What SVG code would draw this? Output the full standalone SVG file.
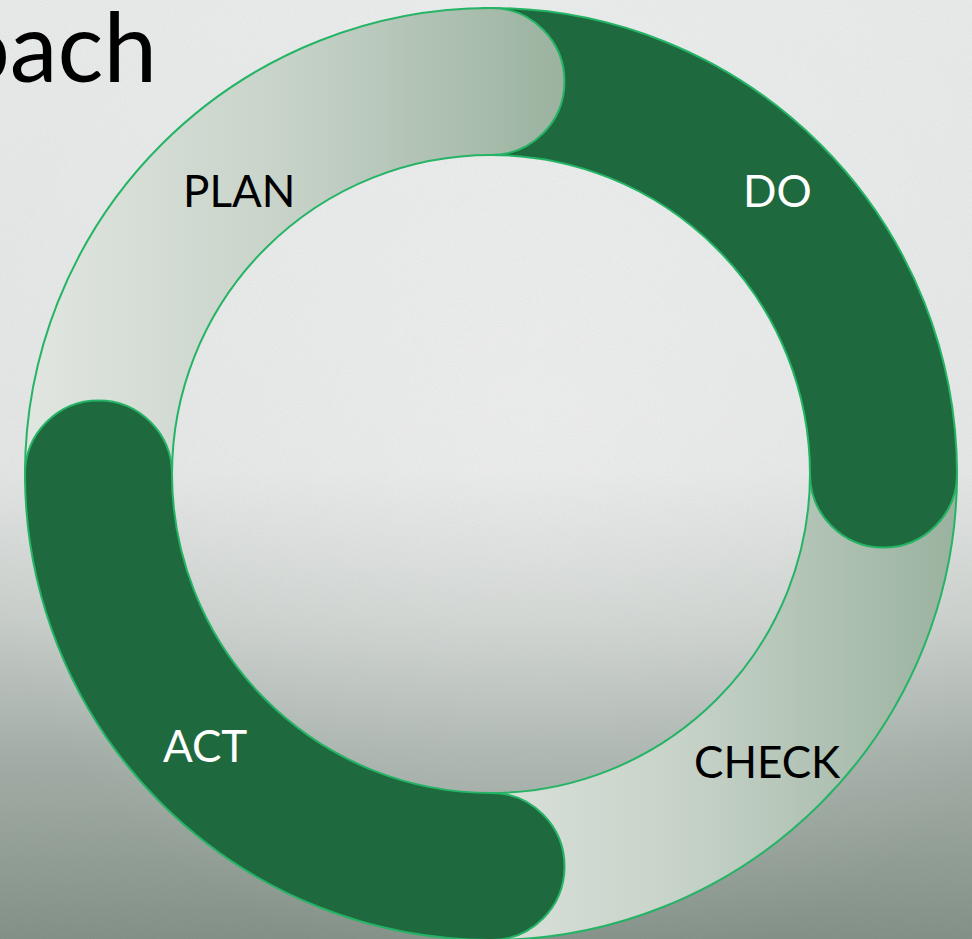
<svg xmlns="http://www.w3.org/2000/svg" width="972" height="939" viewBox="0 0 972 939">
  <defs>
    <linearGradient id="bg" x1="0" y1="0" x2="0" y2="1">
      <stop offset="0" stop-color="#eceeee"/>
      <stop offset="0.5" stop-color="#e6e8e7"/>
      <stop offset="0.66" stop-color="#c9cfcb"/>
      <stop offset="0.8" stop-color="#a3aea7"/>
      <stop offset="1" stop-color="#7f8d83"/>
    </linearGradient>
    <radialGradient id="bgHi" cx="0.55" cy="0.45" r="0.6">
      <stop offset="0" stop-color="#ffffff" stop-opacity="0.35"/>
      <stop offset="1" stop-color="#ffffff" stop-opacity="0"/>
    </radialGradient>
    <linearGradient id="light" x1="0" y1="0" x2="1" y2="0">
      <stop offset="0" stop-color="#e1e6e0"/>
      <stop offset="0.5" stop-color="#c6d2c8"/>
      <stop offset="1" stop-color="#9ab29f"/>
    </linearGradient>
    <filter id="paper" x="0" y="0" width="100%" height="100%">
      <feTurbulence type="fractalNoise" baseFrequency="0.9" numOctaves="2" seed="3"/>
      <feColorMatrix type="matrix" values="0 0 0 0 0.4  0 0 0 0 0.42  0 0 0 0 0.42  0 0 0 0.18 0"/>
    </filter>
    <style>
      .seg { stroke: #25b465; stroke-width: 2; stroke-linejoin: round; }
      .dark { fill: #1e693d; }
      .lite { fill: url(#light); }
      .lbl { font-family: Lato, "Open Sans", "Liberation Sans", sans-serif; font-size: 44px; }
      .w { fill: #ffffff; }
      .k { fill: #000000; }
    </style>
  </defs>

  <rect width="972" height="939" fill="url(#bg)"/>
  <rect width="972" height="939" fill="url(#bgHi)"/>
  <rect width="972" height="939" filter="url(#paper)"/>

  <text x="157" y="82" font-family="Lato, 'Open Sans', 'Liberation Sans', sans-serif" font-size="96" text-anchor="end" fill="#000">Approach</text>

  <g id="check">
    <path class="seg lite" d="M 957,474 A 466 466 0 0 1 491,940 A 73.5 73.5 0 0 1 491,793 A 319 319 0 0 0 810,474 A 73.5 73.5 0 0 1 957,474 Z"/>
    <text class="lbl k" x="694" y="778">CHECK</text>
  </g>
  <g id="do">
    <path class="seg dark" d="M 491,8 A 466 466 0 0 1 957,474 A 73.5 73.5 0 0 1 810,474 A 319 319 0 0 0 491,155 A 73.5 73.5 0 0 1 491,8 Z"/>
    <text class="lbl w" x="743" y="207">DO</text>
  </g>
  <g id="plan">
    <path class="seg lite" d="M 25,474 A 466 466 0 0 1 491,8 A 73.5 73.5 0 0 1 491,155 A 319 319 0 0 0 172,474 A 73.5 73.5 0 0 1 25,474 Z"/>
    <text class="lbl k" x="183" y="207">PLAN</text>
  </g>
  <g id="act">
    <path class="seg dark" d="M 491,940 A 466 466 0 0 1 25,474 A 73.5 73.5 0 0 1 172,474 A 319 319 0 0 0 491,793 A 73.5 73.5 0 0 1 491,940 Z"/>
    <text class="lbl w" x="163" y="762">ACT</text>
  </g>
  <g id="connectors"></g>
</svg>
